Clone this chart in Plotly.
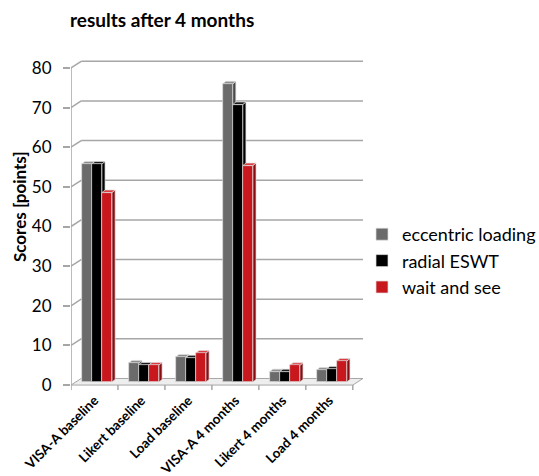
import plotly.graph_objects as go

# ---- data -------------------------------------------------------------
categories = ["VISA-A baseline", "Likert baseline", "Load baseline",
              "VISA-A 4 months", "Likert 4 months", "Load 4 months"]
series_names = ["eccentric loading", "radial ESWT", "wait and see"]
eccentric_loading = [55.0, 4.8, 6.3, 75.2, 2.6, 3.0]
radial_eswt = [55.0, 4.3, 6.1, 70.0, 2.6, 3.3]
wait_and_see = [47.8, 4.3, 7.3, 54.6, 4.2, 5.3]
y_ticks = [0, 10, 20, 30, 40, 50, 60, 70, 80]

# ---- styling / pseudo-3D geometry ---------------------------------------
FONT = "Lato"
front_colors = ["#6b6b6b", "#000000", "#c8181e"]
side_colors = ["#4a4a4a", "#000000", "#8a0d12"]
top_colors = ["#8e8e8e", "#1c1c1c", "#dc3d42"]
edge_color = "#dedede"
grid_color = "#a6a6a6"

L_MARGIN, R_MARGIN, T_MARGIN, B_MARGIN = 71, 176, 60, 83
W, H = 539, 476
Y_MIN, Y_MAX = -2, 82
plot_w = W - L_MARGIN - R_MARGIN
plot_h = H - T_MARGIN - B_MARGIN
n_cat = len(categories)

# wall depth in pixels, then converted into axis units
DEPTH_PX_X, DEPTH_PX_Y = 10.2, 6.6
X_MAX = n_cat - 0.5 + 0.2175
px_x = plot_w / (X_MAX + 0.5)          # pixels per category
px_y = plot_h / (Y_MAX - Y_MIN)        # pixels per score point
DX = DEPTH_PX_X / px_x
DY = DEPTH_PX_Y / px_y

BAR_W = 10.0 / px_x                    # front face width
SX = 3.2 / px_x                        # bar side depth
SY = 2.6 / px_y                        # bar top rise
BASE = 3.0 / px_y                      # bars stand in the middle of the floor
OFFSETS = [-0.165, 0.05, 0.265]


def path(pts):
    return "M " + " L ".join(f"{x:.4f},{y:.4f}" for x, y in pts) + " Z"


shapes = []
# floor
shapes.append(dict(type="path", xref="x", yref="y", layer="below",
                   path=path([(-0.5, 0), (n_cat - 0.5, 0),
                              (n_cat - 0.5 + DX, DY), (-0.5 + DX, DY)]),
                   fillcolor="#eeeeee", line=dict(color=grid_color, width=1)))
# back wall gridlines and left wall diagonals
for v in y_ticks[1:]:
    shapes.append(dict(type="line", xref="x", yref="y", layer="below",
                       x0=-0.5 + DX, y0=v + DY, x1=n_cat - 0.5 + DX, y1=v + DY,
                       line=dict(color=grid_color, width=1.5)))
    shapes.append(dict(type="line", xref="x", yref="y", layer="below",
                       x0=-0.5, y0=v, x1=-0.5 + DX, y1=v + DY,
                       line=dict(color=grid_color, width=1.5)))
# value axis line
shapes.append(dict(type="line", xref="x", yref="y", layer="below",
                   x0=-0.5, y0=0, x1=-0.5, y1=y_ticks[-1],
                   line=dict(color=grid_color, width=1.5)))
# category separators below the floor
for k in range(n_cat + 1):
    shapes.append(dict(type="line", xref="x", yref="y", layer="below",
                       x0=k - 0.5, y0=0, x1=k - 0.5, y1=-5.0 / px_y,
                       line=dict(color=grid_color, width=1.5)))

series = [eccentric_loading, radial_eswt, wait_and_see]

# side and top faces of every bar, painted left to right
for i in range(n_cat):
    for j, vals in enumerate(series):
        xc = i + OFFSETS[j]
        xl, xr = xc - BAR_W / 2, xc + BAR_W / 2
        top = BASE + vals[i]
        side = [(xr, BASE), (xr + SX, BASE + SY), (xr + SX, top + SY), (xr, top)]
        lid = [(xl, top), (xl + SX, top + SY), (xr + SX, top + SY), (xr, top)]
        shapes.append(dict(type="path", xref="x", yref="y", layer="below",
                           path=path(side), fillcolor=side_colors[j],
                           line=dict(color=edge_color, width=0.7)))
        shapes.append(dict(type="path", xref="x", yref="y", layer="below",
                           path=path(lid), fillcolor=top_colors[j],
                           line=dict(color=edge_color, width=0.7)))

fig = go.Figure()
for j, (name, vals) in enumerate(zip(series_names, series)):
    fig.add_trace(go.Bar(
        x=[i + OFFSETS[j] for i in range(n_cat)], y=vals, base=BASE,
        width=BAR_W, name=name,
        marker=dict(color=front_colors[j], line=dict(color=edge_color, width=0.7)),
    ))

fig.update_layout(
    width=W, height=H,
    margin=dict(l=L_MARGIN, r=R_MARGIN, t=T_MARGIN, b=B_MARGIN, autoexpand=False),
    paper_bgcolor="white", plot_bgcolor="white",
    barmode="overlay", bargap=0,
    shapes=shapes,
    font=dict(family=FONT, color="#000000"),
    title=dict(text="<b>results after 4 months</b>", x=70 / W, xanchor="left",
               y=1 - 20 / H, yanchor="middle", font=dict(family=FONT, size=19)),
    xaxis=dict(range=[-0.5, X_MAX], showgrid=False, zeroline=False, showline=False,
               tickmode="array", tickvals=list(range(n_cat)),
               ticktext=[f"<b>{c}</b>" for c in categories],
               tickangle=-45, ticks="", tickfont=dict(family=FONT, size=13.5),
               ticklabelstandoff=-4),
    yaxis=dict(range=[Y_MIN, Y_MAX], showgrid=False, zeroline=False, showline=False,
               tickmode="array", tickvals=y_ticks, ticks="outside", ticklen=7,
               tickcolor=grid_color, tickwidth=1.5,
               tickfont=dict(family=FONT, size=17), ticklabelstandoff=8),
    legend=dict(x=(362 - L_MARGIN) / plot_w, y=(H - B_MARGIN - 261) / plot_h,
                xanchor="left", yanchor="middle",
                font=dict(family=FONT, size=18), itemwidth=30,
                bgcolor="rgba(0,0,0,0)"),
    annotations=[dict(text="<b>Scores [points]</b>", textangle=-90,
                      xref="paper", yref="paper", x=(19 - L_MARGIN) / plot_w,
                      y=(H - B_MARGIN - 207) / plot_h, xanchor="center",
                      yanchor="middle", showarrow=False,
                      font=dict(family=FONT, size=17))],
)

fig.write_html("out.html")
